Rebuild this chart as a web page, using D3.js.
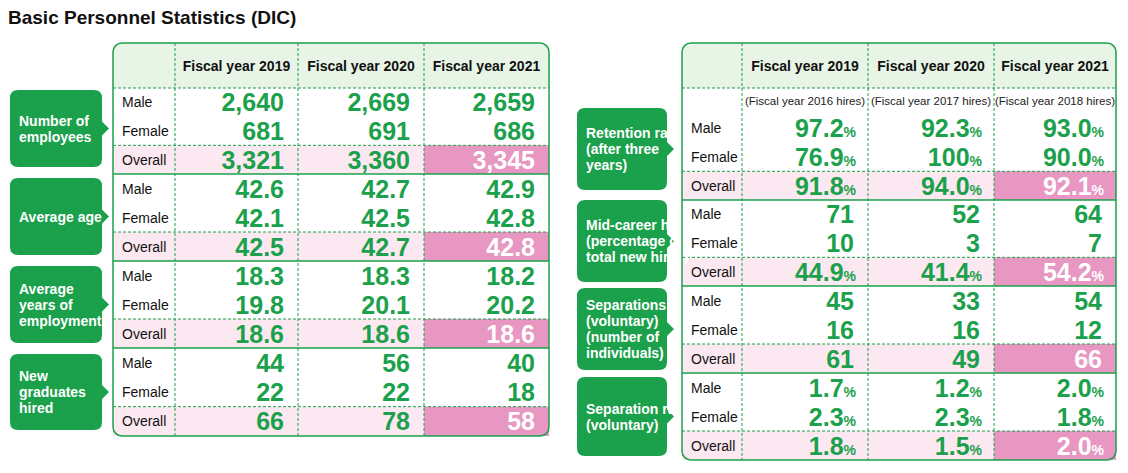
<!DOCTYPE html>
<html><head><meta charset="utf-8">
<script src="https://cdn.jsdelivr.net/npm/d3@7"></script>
<style>body{margin:0;background:#fff}</style>
</head><body><div id="chart"></div>
<script>
const years = ["Fiscal year 2019", "Fiscal year 2020", "Fiscal year 2021"];
const rowNames = ["Male", "Female", "Overall"];
const hires = ["(Fiscal year 2016 hires)", "(Fiscal year 2017 hires)", "(Fiscal year 2018 hires)"];

const leftTitles = [["Number of", "employees"], ["Average age"], ["Average", "years of", "employment"], ["New", "graduates", "hired"]];
const employees = [["2,640", "2,669", "2,659"], ["681", "691", "686"], ["3,321", "3,360", "3,345"]];
const avgAge = [["42.6", "42.7", "42.9"], ["42.1", "42.5", "42.8"], ["42.5", "42.7", "42.8"]];
const avgYears = [["18.3", "18.3", "18.2"], ["19.8", "20.1", "20.2"], ["18.6", "18.6", "18.6"]];
const newGrads = [["44", "56", "40"], ["22", "22", "18"], ["66", "78", "58"]];

const rightTitles = [["Retention rate", "(after three", "years)"], ["Mid-career hires", "(percentage of", "total new hires)"], ["Separations", "(voluntary)", "(number of", "individuals)"], ["Separation rate", "(voluntary)"]];
const retention = [["97.2", "92.3", "93.0"], ["76.9", "100", "90.0"], ["91.8", "94.0", "92.1"]];
const midCareer = [["71", "52", "64"], ["10", "3", "7"], ["44.9", "41.4", "54.2"]];
const separations = [["45", "33", "54"], ["16", "16", "12"], ["61", "49", "66"]];
const sepRate = [["1.7", "1.2", "2.0"], ["2.3", "2.3", "1.8"], ["1.8", "1.5", "2.0"]];
const rightPct = [[true, true, true], [false, false, true], [false, false, false], [true, true, true]];

const green = "#1ba04b", pink = "#e797c1", lightPink = "#fbe8f1", headBg = "#e7f4e6";
const W = 1128, H = 473;
const svg = d3.select("#chart").append("svg").attr("width", W).attr("height", H)
  .style("font-family", "'Liberation Sans Narrow','Liberation Sans',Arial,sans-serif");

svg.append("text").attr("x", 8).attr("y", 24).attr("font-size", 19).attr("font-weight", "bold")
  .attr("fill", "#111").style("font-family", "'Liberation Sans',Arial,sans-serif")
  .text("Basic Personnel Statistics (DIC)");

function drawTable(cfg) {
  const g = svg.append("g");
  const xs = cfg.cols; // [x0, c1, c2, c3, x1]
  const x = d3.scaleOrdinal().domain([0, 1, 2]).range([xs[1], xs[2], xs[3]]);
  const top = cfg.top, bottom = cfg.sections[cfg.sections.length - 1].bottom;

  // frame with rounded corners
  g.append("rect").attr("x", xs[0]).attr("y", top).attr("width", xs[4] - xs[0]).attr("height", bottom - top)
    .attr("rx", 9).attr("fill", "#fff").attr("stroke", "none");
  g.append("path").attr("d", `M${xs[0]},${top + cfg.headH} V${top + 9} Q${xs[0]},${top} ${xs[0] + 9},${top} H${xs[4] - 9} Q${xs[4]},${top} ${xs[4]},${top + 9} V${top + cfg.headH} Z`)
    .attr("fill", headBg);

  years.forEach((y, i) => {
    const cx = (xs[i + 1] + xs[i + 2]) / 2;
    g.append("text").attr("x", cx).attr("y", top + cfg.headH / 2 + 5).attr("text-anchor", "middle")
      .attr("font-size", 14).attr("font-weight", "bold").attr("fill", "#111").text(y);
  });

  cfg.sections.forEach((s, si) => {
    const n = s.rows.length;
    const rowH = (s.bottom - s.rowTop) / 3;
    const oy = s.rowTop + 2 * rowH;
    // overall row
    g.append("rect").attr("x", xs[0]).attr("y", oy).attr("width", xs[3] - xs[0]).attr("height", rowH).attr("fill", lightPink);
    g.append("rect").attr("x", xs[3]).attr("y", oy).attr("width", xs[4] - xs[3]).attr("height", rowH).attr("fill", pink);
    g.append("line").attr("x1", xs[0]).attr("x2", xs[4]).attr("y1", oy).attr("y2", oy)
      .attr("stroke", green).attr("stroke-dasharray", "3,2");
    if (s.sub) {
      s.sub.forEach((t, i) => g.append("text").attr("x", (xs[i + 1] + xs[i + 2]) / 2).attr("y", s.top + 17)
        .attr("text-anchor", "middle").attr("font-size", 11.5).attr("fill", "#222").text(t));
    }
    rowNames.forEach((r, ri) => {
      const cy = s.rowTop + ri * rowH + rowH / 2;
      g.append("text").attr("x", xs[0] + 9).attr("y", cy + 5).attr("font-size", 14).attr("fill", "#111").text(r);
      s.rows[ri].forEach((v, ci) => {
        const pct = s.pct && (s.pct === true || s.pct[ri]);
        const t = g.append("text").attr("x", xs[ci + 2] - (pct ? 12 : 14)).attr("y", cy + 9)
          .attr("text-anchor", "end").attr("font-weight", "bold").attr("font-size", 25)
          .style("font-family", "'Liberation Sans',Arial,sans-serif")
          .attr("fill", ri === 2 && ci === 2 ? "#fff" : green);
        t.append("tspan").text(v);
        if (pct) t.append("tspan").attr("font-size", 14).text("%");
      });
    });
    // section separator
    if (si < cfg.sections.length - 1)
      g.append("line").attr("x1", xs[0]).attr("x2", xs[4]).attr("y1", s.bottom).attr("y2", s.bottom).attr("stroke", green).attr("stroke-width", 1.5);

    // tab label
    const tx0 = cfg.tab[0], tx1 = cfg.tab[1], ty0 = s.tab[0], ty1 = s.tab[1], my = (ty0 + ty1) / 2;
    g.append("path").attr("d", `M${tx0 + 8},${ty0} H${tx1 - 8} Q${tx1},${ty0} ${tx1},${ty0 + 8} V${my - 7} L${tx1 + 7},${my} L${tx1},${my + 7} V${ty1 - 8} Q${tx1},${ty1} ${tx1 - 8},${ty1} H${tx0 + 8} Q${tx0},${ty1} ${tx0},${ty1 - 8} V${ty0 + 8} Q${tx0},${ty0} ${tx0 + 8},${ty0} Z`)
      .attr("fill", green);
    const lines = cfg.titles[si];
    lines.forEach((l, li) => {
      g.append("text").attr("x", cfg.titleAlign === "start" ? tx0 + 9 : (tx0 + tx1) / 2)
        .attr("text-anchor", cfg.titleAlign).attr("y", my + 5 + (li - (lines.length - 1) / 2) * 16)
        .attr("font-size", 14).attr("font-weight", "bold").attr("fill", "#fff").text(l);
    });
  });

  g.append("line").attr("x1", xs[0]).attr("x2", xs[4]).attr("y1", top + cfg.headH).attr("y2", top + cfg.headH)
    .attr("stroke", green).attr("stroke-dasharray", "3,2");
  [1, 2, 3].forEach(i => g.append("line").attr("x1", xs[i]).attr("x2", xs[i]).attr("y1", top).attr("y2", bottom)
    .attr("stroke", green).attr("stroke-dasharray", "3,2"));
  g.append("rect").attr("x", xs[0]).attr("y", top).attr("width", xs[4] - xs[0]).attr("height", bottom - top)
    .attr("rx", 9).attr("fill", "none").attr("stroke", green).attr("stroke-width", 1.5);
}

drawTable({
  cols: [113, 175, 298, 424, 549], top: 43, headH: 45, tab: [10, 102], titles: leftTitles, titleAlign: "start",
  sections: [
    { top: 88, rowTop: 88, bottom: 174, rows: employees, tab: [90, 167] },
    { top: 174, rowTop: 174, bottom: 261, rows: avgAge, tab: [178, 255] },
    { top: 261, rowTop: 261, bottom: 348, rows: avgYears, tab: [266, 343] },
    { top: 348, rowTop: 348, bottom: 436, rows: newGrads, tab: [354, 430] }
  ]
});

drawTable({
  cols: [682, 742, 868, 994, 1116], top: 43, headH: 45, tab: [577, 667], titles: rightTitles, titleAlign: "start",
  sections: [
    { top: 88, rowTop: 114, bottom: 200, rows: retention, tab: [108, 190], sub: hires, pct: true },
    { top: 200, rowTop: 200, bottom: 286, rows: midCareer, tab: [200, 282], pct: [false, false, true] },
    { top: 286, rowTop: 286, bottom: 373, rows: separations, tab: [288, 370] },
    { top: 373, rowTop: 373, bottom: 460, rows: sepRate, tab: [377, 456], pct: true }
  ]
});
</script></body></html>
